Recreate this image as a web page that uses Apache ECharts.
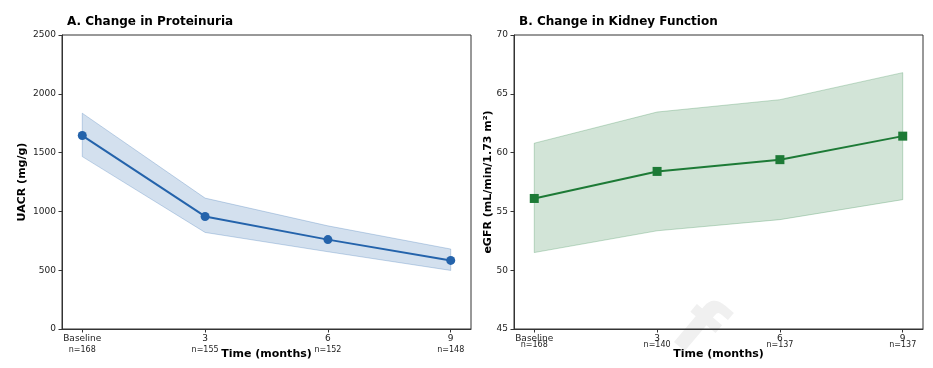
<!DOCTYPE html>
<html><head><meta charset="utf-8">
<script src="https://cdn.jsdelivr.net/npm/echarts@6/dist/echarts.min.js"></script>
<style>html,body{margin:0;padding:0;background:#fff}#c{width:933px;height:368px}</style>
</head><body><div id="c"></div>
<script>
// ---- data ----
const timepoints = [0, 1, 2, 3];
const tickLabels = ['Baseline', '3', '6', '9'];
const nA = ['n=168', 'n=155', 'n=152', 'n=148'];
const nB = ['n=168', 'n=140', 'n=137', 'n=137'];
const uacrMean = [1645, 957, 760, 583];
const uacrUpper = [1835, 1113, 877, 680];
const uacrLower = [1466, 821, 657, 498];
const egfrMean = [56.1, 58.4, 59.4, 61.4];
const egfrUpper = [60.8, 63.45, 64.5, 66.8];
const egfrLower = [51.5, 53.35, 54.3, 56.0];
const yTicksA = [0, 500, 1000, 1500, 2000, 2500];
const yTicksB = [45, 50, 55, 60, 65, 70];

const FONT = 'DejaVu Sans';
const AX = '#333333';
const BLUE = '#2463ab', BLUE_FILL = 'rgba(36,99,171,0.2)', BLUE_EDGE = 'rgba(36,99,171,0.25)';
const GREEN = '#1d7a36', GREEN_FILL = 'rgba(29,122,54,0.2)', GREEN_EDGE = 'rgba(29,122,54,0.25)';

function xAxis(idx, nLabels, overlap) {
  return {
    type: 'value', gridIndex: idx, min: -0.165, max: 3.165,
    name: 'Time (months)', nameLocation: 'middle', nameGap: 20, nameMoveOverlap: false,
    nameTextStyle: {fontFamily: FONT, fontSize: 11, fontWeight: 'bold', color: '#000'},
    axisLine: {show: true, onZero: false, lineStyle: {color: AX, width: 1}},
    axisTick: {show: true, inside: false, length: 3.5, lineStyle: {color: AX}, customValues: timepoints},
    splitLine: {show: false},
    axisLabel: {
      customValues: timepoints, margin: overlap ? 7 : 4.5,
      formatter: v => '{t|' + tickLabels[Math.round(v)] + '}\n{n|' + nLabels[Math.round(v)] + '}',
      rich: {
        t: {fontFamily: FONT, fontSize: 9, color: '#222', lineHeight: overlap ? 6 : 11},
        n: {fontFamily: FONT, fontSize: 8, color: '#222', lineHeight: overlap ? 6 : 11}
      }
    }
  };
}
function yAxis(idx, ticks, name, gap) {
  return {
    type: 'value', gridIndex: idx, min: ticks[0], max: ticks[ticks.length - 1],
    interval: ticks[1] - ticks[0],
    name: name, nameLocation: 'middle', nameGap: gap, nameMoveOverlap: false,
    nameTextStyle: {fontFamily: FONT, fontSize: 11, fontWeight: 'bold', color: '#000'},
    axisLine: {show: true, onZero: false, lineStyle: {color: AX, width: 1}},
    axisTick: {show: true, length: 3.5, lineStyle: {color: AX}},
    splitLine: {show: false},
    axisLabel: {fontFamily: FONT, fontSize: 9, color: '#222', margin: 6, formatter: v => String(v)}
  };
}
function band(idx, upper, lower, fill, edge) {
  return {
    type: 'custom', xAxisIndex: idx, yAxisIndex: idx, silent: true, z: 1,
    data: [0],
    renderItem: function (params, api) {
      const top = timepoints.map((t, i) => api.coord([t, upper[i]]));
      const bot = timepoints.map((t, i) => api.coord([t, lower[i]])).reverse();
      return {type: 'polygon', shape: {points: top.concat(bot)},
        style: {fill: fill, stroke: edge, lineWidth: 1}};
    }
  };
}
function line(idx, mean, color, symbol, size) {
  return {
    type: 'line', xAxisIndex: idx, yAxisIndex: idx, z: 3,
    data: timepoints.map((t, i) => [t, mean[i]]),
    symbol: symbol, symbolSize: size, showSymbol: true,
    lineStyle: {color: color, width: 2}, itemStyle: {color: color, borderWidth: 0},
    animation: false
  };
}

const chart = echarts.init(document.getElementById('c'), null, {renderer: 'canvas'});
chart.setOption({
  animation: false,
  backgroundColor: '#fff',
  title: [
    {text: 'A. Change in Proteinuria', left: 62, top: 11, textStyle: {fontFamily: FONT, fontSize: 12, fontWeight: 'bold', color: '#000'}},
    {text: 'B. Change in Kidney Function', left: 514, top: 11, textStyle: {fontFamily: FONT, fontSize: 12, fontWeight: 'bold', color: '#000'}}
  ],
  grid: [
    {left: 62, top: 35, width: 409, height: 294, outerBoundsMode: 'none', containLabel: false, show: true, borderColor: AX, borderWidth: 1, backgroundColor: 'transparent'},
    {left: 514, top: 35, width: 409, height: 294, outerBoundsMode: 'none', containLabel: false, show: true, borderColor: AX, borderWidth: 1, backgroundColor: 'transparent'}
  ],
  xAxis: [xAxis(0, nA, false), xAxis(1, nB, true)],
  yAxis: [yAxis(0, yTicksA, 'UACR (mg/g)', 34), yAxis(1, yTicksB, 'eGFR (mL/min/1.73 m²)', 20)],
  graphic: [{
    type: 'text', left: 655, top: 290, z: -10, rotation: -0.7,
    style: {text: 'f', fontFamily: FONT, fontSize: 80, fontWeight: 'bold', fill: '#f0f0f0'}
  }],
  series: [
    band(0, uacrUpper, uacrLower, BLUE_FILL, BLUE_EDGE),
    line(0, uacrMean, BLUE, 'circle', 9),
    band(1, egfrUpper, egfrLower, GREEN_FILL, GREEN_EDGE),
    line(1, egfrMean, GREEN, 'rect', 9)
  ]
});
</script></body></html>
